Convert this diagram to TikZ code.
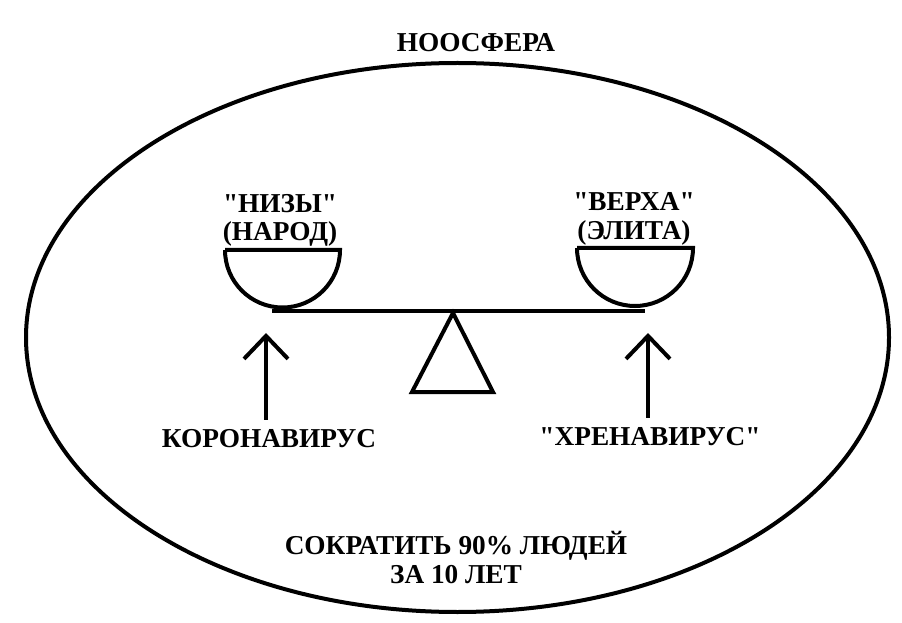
\documentclass[tikz,border=0pt]{standalone}
\usepackage{fontspec}
\setmainfont{Liberation Serif}
\usetikzlibrary{arrows.meta}

\newcommand{\qq}{\textquotedbl}

\begin{document}
\begin{tikzpicture}[x=1pt,y=1pt]
\useasboundingbox (0,0) rectangle (902,622);

\begin{scope}[line width=4pt]
    \draw (457.5,284.5) ellipse [x radius=431.5, y radius=274.5];
    \draw (225,372) -- (340,372) arc [start angle=0, end angle=-180, radius=57.5];
    \draw (577,374) -- (693,374) arc [start angle=0, end angle=-180, radius=58];
    \draw (272,311) -- (645,311);
    \draw[line join=miter] (453,309) -- (412,230) -- (493,230) -- cycle;
\end{scope}

\begin{scope}[every node/.style={font=\bfseries\fontsize{27.3}{29}\selectfont,
                                 align=center, anchor=base, inner sep=0pt}]
    \node (noosphere) at (476,570) {НООСФЕРА};
    \node (lows) at (280,381) {\qq НИЗЫ\qq\\(НАРОД)};
    \node (highs) at (634,382) {\qq ВЕРХА\qq\\(ЭЛИТА)};
    \node (corona) at (269,175) {КОРОНАВИРУС};
    \node (hren) at (650,177) {\qq ХРЕНАВИРУС\qq};
    \node (goal) at (456,39) {СОКРАТИТЬ 90\% ЛЮДЕЙ\\ЗА 10 ЛЕТ};
\end{scope}

\coordinate (ltip) at (266,289);
\coordinate (rtip) at (648,289);

\begin{scope}[>={Straight Barb[length=23pt, width=44pt]},
              every edge/.style={draw=black, line width=4pt, shorten <=9pt}]
    \path [->] (corona.north -| ltip) edge (ltip);
    \path [->] (hren.north -| rtip) edge (rtip);
\end{scope}
\end{tikzpicture}
\end{document}
